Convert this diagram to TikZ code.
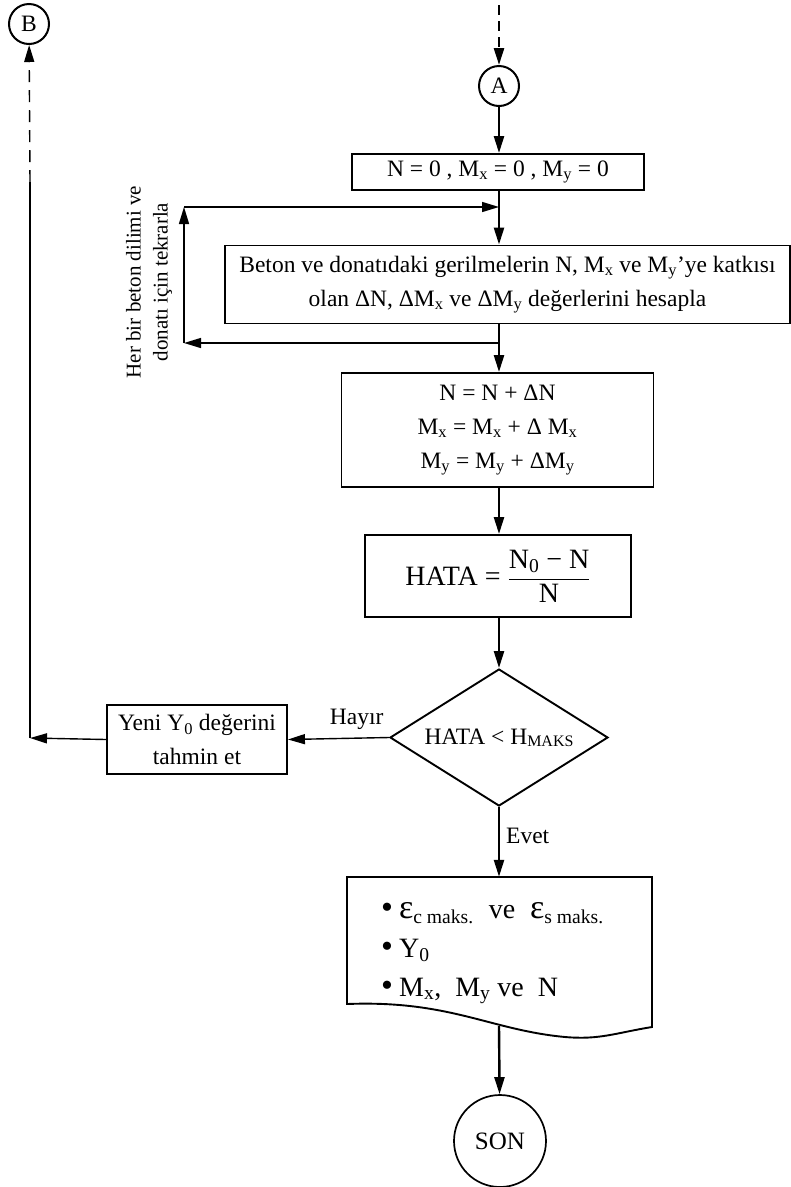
\documentclass[tikz,border=0pt]{standalone}
\usepackage{fontspec}
\setmainfont{Liberation Serif}
\usetikzlibrary{arrows.meta,shapes.geometric}
\newcommand{\bigeps}{{\fontsize{34}{34}\selectfont ε}}
\newcommand{\bul}{{\fontsize{34}{34}\selectfont •}\hspace{6pt}}
\begin{document}
\begin{tikzpicture}[x=1pt,y=-1pt,
  every node/.style={font=\fontsize{23.5}{34}\selectfont, inner sep=0pt},
  box/.style={draw, line width=1.9pt, align=center},
  conn/.style={circle, draw, line width=2pt, minimum size=40pt},
  flow/.style={line width=2.4pt, -{Triangle[length=17pt,width=10pt]}},
  thinarrow/.style={line width=1.4pt, -{Triangle[length=17pt,width=10pt]}},
  thinline/.style={line width=1.4pt},
]
\useasboundingbox (0,0) rectangle (791,1187);

% connectors A and B
\node[conn] (A) at (499,86) {A};
\node[conn] (B) at (29,24) {B};

% boxes
\node[box, minimum width=292pt, minimum height=36pt] (b1) at (498,172)
  {N = 0 , M\textsubscript{x} = 0 , M\textsubscript{y} = 0};
\node[box, minimum width=565pt, minimum height=78pt] (b2) at (507.5,284.5)
  {Beton ve donatıdaki gerilmelerin N, M\textsubscript{x} ve M\textsubscript{y}’ye katkısı\\
   olan ΔN, ΔM\textsubscript{x} ve ΔM\textsubscript{y} değerlerini hesapla};
\node[box, minimum width=312pt, minimum height=114pt] (b3) at (497.5,430)
  {N = N + ΔN\\ M\textsubscript{x} = M\textsubscript{x} + Δ M\textsubscript{x}\\
   M\textsubscript{y} = M\textsubscript{y} + ΔM\textsubscript{y}};
\node[box, minimum width=266pt, minimum height=82pt, font=\fontsize{28}{34}\selectfont] (b4) at (498,576)
  {HATA = $\displaystyle\frac{\mbox{\fontsize{28}{30}\selectfont N\textsubscript{0} − N}}{\mbox{\fontsize{28}{30}\selectfont N}}$};
\node[diamond, draw, line width=1.9pt, minimum width=218pt, minimum height=137pt,
      aspect=1.6] (d) at (499,737.5)
  {HATA < H{\fontsize{16}{16}\selectfont\raisebox{-2pt}{MAKS}}};
\node[box, minimum width=180pt, minimum height=69pt] (b5) at (197,739.5)
  {Yeni Y\textsubscript{0} değerini\\ tahmin et};

% document shape
\node[minimum width=305pt, minimum height=160pt] (doc) at (499.5,957) {};
\draw[line width=1.9pt] (347,1004) -- (347,877) -- (652,877) -- (652,1027)
  .. controls (615,1033) and (600,1040) .. (565,1037)
  .. controls (490,1030) and (450,1000) .. (347,1004) -- cycle;
\node[font=\fontsize{28}{39}\selectfont, align=left, anchor=west] (list) at (381,953)
  {\bul\bigeps\textsubscript{c maks.}\hspace{15pt}ve\hspace{15pt}\bigeps\textsubscript{s maks.}\\
   \bul Y\textsubscript{0}\\
   \bul M\textsubscript{x},\ \ M\textsubscript{y} ve\ \ N};

\node[circle, draw, line width=1.7pt, minimum size=92pt, font=\fontsize{25}{25}\selectfont] (son) at (500,1141) {SON};

% rotated loop label
\node[rotate=90, align=center, font=\fontsize{21}{27}\selectfont] (loopt) at (149,282)
  {Her bir beton dilimi ve\\ donatı için tekrarla};

% main flow
\coordinate (top) at (499,5);
\draw[line width=2.6pt, dash pattern=on 10pt off 6pt, -{Triangle[length=17pt,width=10pt]}] (top) -- (A);
\draw[flow] (A) -- (A |- b1.north);
\draw[flow] (A |- b1.south) -- (A |- b2.north);
\draw[flow] (A |- b2.south) -- (A |- b3.north);
\draw[flow] (A |- b3.south) -- (A |- b4.north);
\draw[flow] (A |- b4.south) -- (d);
\draw[flow] (d) -- node[right=6pt, pos=0.42] (evet) {Evet} (A |- doc.north);
\coordinate (docout) at (499,1026);
\draw[flow] (docout) -- (son);

% loop
\coordinate (lr) at (499,343);
\coordinate (ll) at (184,343);
\coordinate (tl) at (184,207);
\coordinate (tr) at (499,207);
\draw[thinarrow] (lr) -- (ll);
\draw[thinarrow] (ll) -- (tl);
\draw[thinarrow] (tl) -- (tr);

% Hayir branch
\draw[thinarrow] (d.west) -- node[above=8pt, pos=0.32] (hayir) {Hayır} (b5.east);
\coordinate (bl) at (30,738);
\coordinate (bm) at (30,182);
\draw[thinarrow] (b5.west) -- (bl);
\draw[thinline] (bl) -- (bm);
\draw[thinarrow, dash pattern=on 12pt off 8pt] (bm) -- (B);
\end{tikzpicture}
\end{document}
